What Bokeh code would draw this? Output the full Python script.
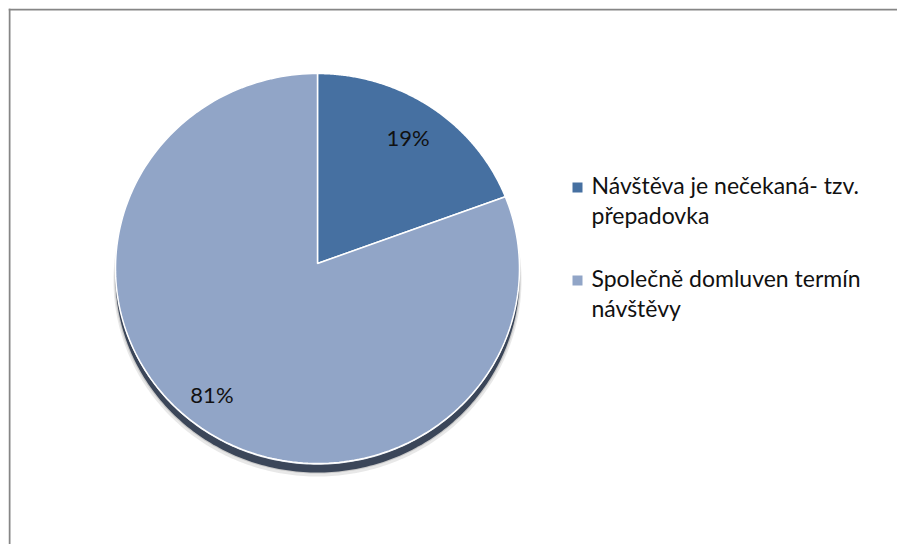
import numpy as np
from bokeh.plotting import figure
from bokeh.models import Range1d, Span
from bokeh.core.properties import value
from bokeh.embed import file_html
from bokeh.resources import INLINE

# ---- data ----
categories = ["Návštěva je nečekaná- tzv. přepadovka", "Společně domluven termín návštěvy"]
legend_lines = ["Návštěva je nečekaná- tzv.\npřepadovka", "Společně domluven termín\nnávštěvy"]
values = [19, 81]
pct_labels = ["19%", "81%"]
colors = ["#4670a1", "#91a5c7"]

FW, FH = 889, 536
p = figure(width=FW + 8, height=FH + 8, output_backend="svg", toolbar_location=None,
           x_range=Range1d(0, FW), y_range=Range1d(FH, 0),
           min_border_left=8, min_border_top=8, min_border_right=0, min_border_bottom=0)
p.axis.visible = False
p.grid.visible = False
p.outline_line_color = None
p.background_fill_color = "white"
p.border_fill_color = "white"

# chart-area frame (only the left and top edges fall inside the window)
p.add_layout(Span(location=1, dimension="height", line_color="#868686", line_width=2))
p.add_layout(Span(location=1, dimension="width", line_color="#868686", line_width=2))

# pie geometry (frame pixel space, y down)
cx, cy = 309, 260      # ellipse centre
vx, vy = 309, 255      # slice vertex
rx, ry = 202, 195
depth = 9

t = np.linspace(0, 2 * np.pi, 361)
# soft outer shadow
p.patch(cx + (rx + 2) * np.sin(t), cy + depth + 3 - (ry + 1) * np.cos(t),
        fill_color="#bdbdbd", fill_alpha=0.35, line_color=None)
p.patch(cx + (rx + 1) * np.sin(t), cy + depth + 1 - ry * np.cos(t),
        fill_color="#a9a9a9", fill_alpha=0.5, line_color=None)
# dark side band
p.patch(cx + rx * np.sin(t), cy + depth - ry * np.cos(t),
        fill_color="#3b4659", line_color=None)
# light rim between top and side
p.patch(cx + rx * np.sin(t), cy + 1.2 - ry * np.cos(t),
        fill_color="#e4e8ef", line_color=None)

total = float(sum(values))
starts = np.cumsum([0] + values[:-1]) / total * 2 * np.pi
ends = np.cumsum(values) / total * 2 * np.pi
xs, ys = [], []
for a0, a1 in zip(starts, ends):
    aa = np.linspace(a0, a1, 200)
    xs.append(np.concatenate([[vx], cx + rx * np.sin(aa), [vx]]))
    ys.append(np.concatenate([[vy], cy - ry * np.cos(aa), [vy]]))
p.patches(xs, ys, fill_color=colors, line_color="white", line_width=1.5)

# percentage labels (placed along each slice's mid-angle)
mids = (starts + ends) / 2
lab_r = 0.78
lab_dx = np.array([2, -17])
lab_dy = np.array([-5, 0])
lx = cx + lab_r * rx * np.sin(mids) + lab_dx
ly = cy - lab_r * ry * np.cos(mids) + lab_dy
p.text(lx, ly, text=pct_labels, text_font=value("Lato"), text_font_size="22px",
       text_color="#111111", text_align="center", text_baseline="middle")

# legend
leg_x = 569
leg_y0 = 179
leg_gap = 93
ly_items = [leg_y0 + i * leg_gap for i in range(len(categories))]
p.scatter([leg_x] * len(categories), ly_items, marker="square", size=10,
          fill_color=colors, line_color=None)
p.text([leg_x + 14] * len(categories), [y - 17 for y in ly_items], text=legend_lines,
       text_font=value("Lato"), text_font_size="23px", text_color="#111111",
       text_align="left", text_baseline="top", text_line_height=1.1)

open("out.html", "w").write(file_html(p, INLINE))
